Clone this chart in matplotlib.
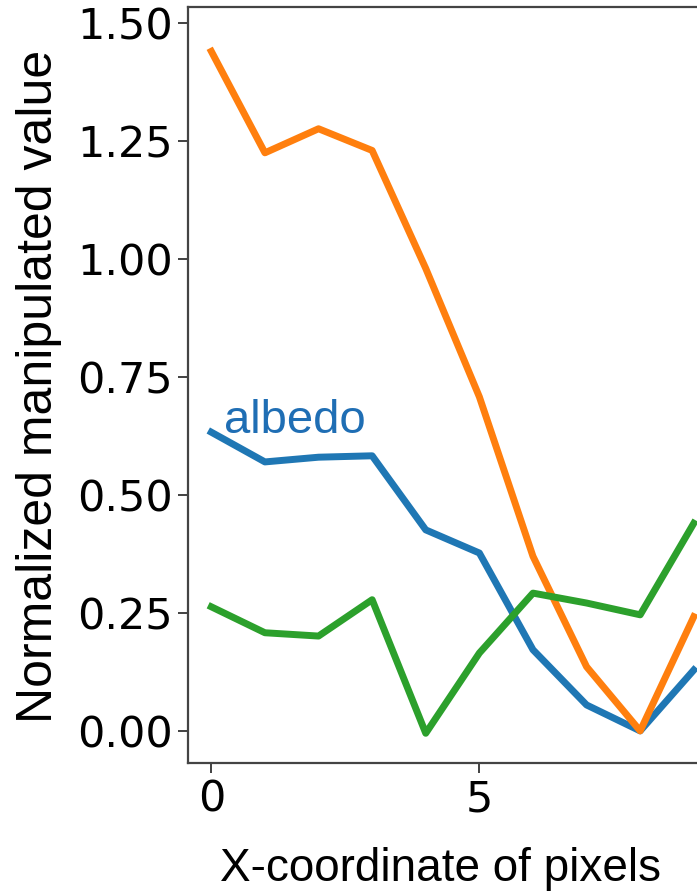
#!/usr/bin/env python3
"""Normalized manipulated value along a pixel row (albedo + two other channels)."""

import matplotlib
matplotlib.use("Agg")
import matplotlib.pyplot as plt
from matplotlib import font_manager
from matplotlib.ticker import MultipleLocator, FormatStrFormatter

# values
x_pix = [0, 1, 2, 3, 4, 5, 6, 7, 8, 9]
albedo = [0.633, 0.570, 0.580, 0.583, 0.426, 0.377, 0.172, 0.055, 0.0, 0.129]
orange_vals = [1.44, 1.225, 1.276, 1.230, 0.980, 0.708, 0.370, 0.136, 0.0, 0.242]
green_vals = [0.263, 0.208, 0.201, 0.278, -0.005, 0.165, 0.292, 0.271, 0.246, 0.440]
y_ticks = [0.0, 0.25, 0.50, 0.75, 1.00, 1.25, 1.50]

names = {f.name for f in font_manager.fontManager.ttflist}
label_font = "Liberation Sans Narrow" if "Liberation Sans Narrow" in names else "Liberation Sans"

W, H = 697, 894
fig = plt.figure(figsize=(W / 100, H / 100), dpi=100)
ax = fig.add_axes([188 / W, 1 - 763 / H, 1 - 188 / W + 0.01, (763 - 7) / H])

ax.plot(x_pix, albedo, color="#1f77b4", lw=5)
ax.plot(x_pix, orange_vals, color="#ff7f0e", lw=5)
ax.plot(x_pix, green_vals, color="#2ca02c", lw=5)

ax.text(0.23, 0.631, "albedo", color="#1f6eb4", fontsize=34,
        family=label_font, va="baseline", ha="left")

ax.set_xlim(-0.435, 9.19)
ax.set_ylim(-0.068, 1.534)
ax.xaxis.set_major_locator(MultipleLocator(5))
ax.set_yticks(y_ticks)
ax.yaxis.set_major_formatter(FormatStrFormatter("%.2f"))
ax.tick_params(labelsize=31, length=7, width=1.3, pad=4, color="#333333")

for s in ax.spines.values():
    s.set_color("#444444")
    s.set_linewidth(1.6)
ax.spines["right"].set_visible(False)

fig.text(0.056, 0.568, "Normalized manipulated value", rotation=90,
         fontsize=36, family=label_font, ha="center", va="center")
fig.text(0.632, 0.014, "X-coordinate of pixels", fontsize=33,
         family=label_font, ha="center", va="baseline")

fig.savefig("out.png", dpi=100, facecolor="white")
